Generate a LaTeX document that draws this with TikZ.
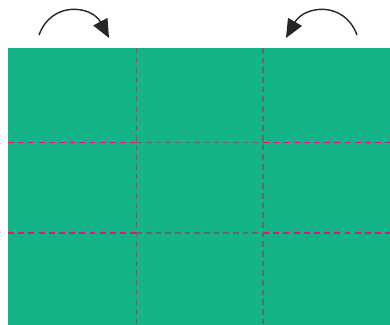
\documentclass[tikz,border=0pt]{standalone}
\usepackage{xcolor}
\usetikzlibrary{arrows.meta}
\definecolor{sheetgreen}{HTML}{14B388}
\definecolor{cutpink}{HTML}{E2147F}
\definecolor{foldgray}{HTML}{5E6B68}
\tikzset{
  sheet/.style={fill=sheetgreen, draw=none},
  foldline/.style={draw=foldgray, dashed, dash pattern=on 3.2pt off 2.3pt, line width=0.9pt},
  cutline/.style={draw=cutpink, dashed, dash pattern=on 3.4pt off 2.4pt, line width=0.9pt},
  turnarrow/.style={-{Triangle[length=10.5pt,width=9pt]}, line width=0.8pt, black!85}
}
\begin{document}
\begin{tikzpicture}[x=0.02cm,y=-0.02cm]
\useasboundingbox (0,0) rectangle (390,325);
% paper sheet
\path[sheet] (8,48) rectangle (390,325);
% horizontal lines, coloured outside the middle panel
\draw[cutline] (8,142.5) -- (136.5,142.5);
\draw[cutline] (263,142.5) -- (390,142.5);
\draw[cutline] (8,233.2) -- (136.5,233.2);
\draw[cutline] (263,233.2) -- (390,233.2);
\draw[foldline] (136.5,142.5) -- (263,142.5);
\draw[foldline] (136.5,233.2) -- (263,233.2);
% vertical folds
\draw[foldline] (136.5,48) -- (136.5,325);
\draw[foldline] (263,48) -- (263,325);
% turning arrows
\coordinate (lstart) at (39,35);
\coordinate (lend) at (109,38);
\coordinate (rstart) at (357,35);
\coordinate (rend) at (286,38);
\draw[turnarrow] (lstart) .. controls (52,0) and (92,6) .. (lend);
\draw[turnarrow] (rstart) .. controls (344,0) and (304,6) .. (rend);
\end{tikzpicture}
\end{document}
